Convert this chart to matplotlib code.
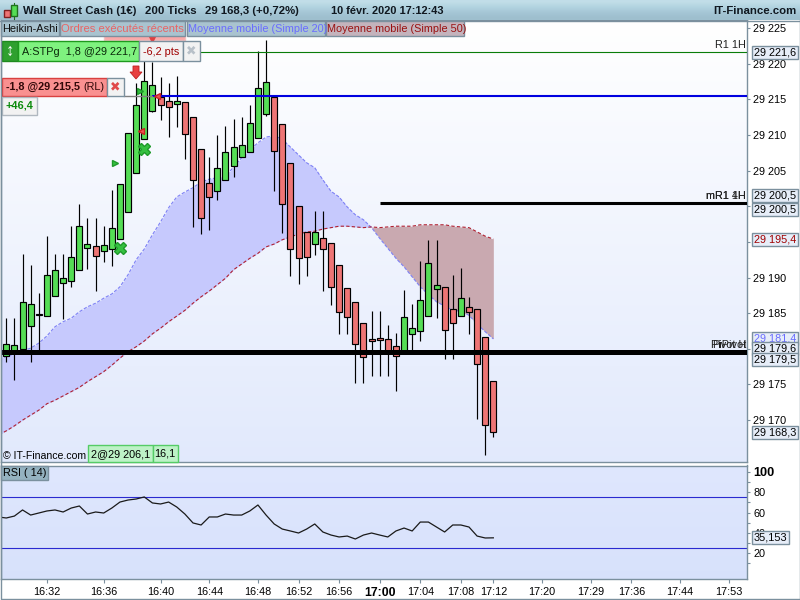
import matplotlib
matplotlib.use('Agg')
import matplotlib.pyplot as plt
import numpy as np
from matplotlib.patches import Polygon, Rectangle

plt.rcParams['font.family'] = ['Liberation Sans', 'DejaVu Sans']

# prices are written without the 29 000 in front
BASE = 29000

opens = [179.0, 179.6, 180.0, 183.2, 184.7, 184.6, 187.4, 189.2, 189.5, 191.1, 194.1, 194.4, 193.7, 194.0, 195.4, 199.2,
         204.7, 209.4, 213.4, 215.3, 214.8, 214.3, 214.6, 212.5, 208.0, 203.3, 202.1, 203.7, 205.6, 206.9, 207.6, 209.6,
         212.9, 215.3, 211.5, 206.1, 200.0, 196.4, 194.7, 195.5, 194.8, 191.8, 188.5, 186.6, 183.6, 181.4, 181.5, 181.4,
         180.4, 179.4, 182.1, 182.5, 184.6, 188.4, 188.7, 185.6, 184.6, 185.9, 185.6, 181.7, 175.5]
closes = [180.7, 180.5, 186.6, 186.3, 184.9, 190.4, 191.1, 189.9, 192.9, 197.2, 194.7, 193.0, 194.6, 197.0, 203.1, 210.3,
          214.2, 217.6, 217.0, 214.2, 213.9, 214.8, 210.1, 203.7, 198.4, 201.3, 205.4, 207.6, 208.3, 208.6, 211.7, 216.6,
          217.4, 207.7, 200.3, 194.0, 192.7, 192.9, 196.4, 194.0, 188.7, 185.2, 184.5, 180.7, 178.9, 181.1, 181.2, 179.4,
          179.0, 184.5, 182.9, 186.9, 192.0, 189.0, 182.6, 183.6, 187.1, 185.2, 177.9, 169.3, 168.3]
highs = [184.3, 184.3, 193.3, 191.8, 187.8, 195.8, 193.3, 193.3, 197.2, 200.3, 198.4, 198.4, 197.2, 202.3, 203.1, 210.3,
         217.3, 220.5, 220.2, 218.1, 217.3, 218.3, 214.6, 212.5, 208.0, 206.9, 210.0, 211.3, 212.2, 212.5, 214.2, 221.8,
         223.3, 215.3, 211.5, 206.1, 200.0, 196.4, 199.3, 199.3, 194.8, 191.8, 188.5, 186.6, 183.6, 185.3, 185.3, 183.3,
         182.2, 188.3, 186.3, 192.3, 195.3, 195.3, 188.7, 190.4, 191.3, 187.3, 185.6, 181.7, 175.5]
lows = [178.2, 175.6, 179.6, 178.2, 179.8, 184.6, 187.4, 184.2, 188.7, 191.1, 191.2, 188.1, 192.2, 191.6, 195.4, 199.2,
        204.7, 209.4, 213.2, 212.1, 209.7, 211.1, 206.6, 197.1, 196.1, 196.7, 200.9, 203.7, 204.1, 206.9, 207.6, 209.6,
        212.7, 202.1, 196.2, 190.2, 189.1, 190.2, 193.2, 188.1, 186.1, 182.1, 182.1, 175.2, 175.2, 176.2, 176.2, 176.2,
        174.1, 179.4, 179.6, 181.1, 184.6, 184.3, 178.6, 178.6, 184.6, 182.1, 170.2, 165.1, 167.6]
# the indicator lists start one bar earlier, at the left edge of the panel
ma20 = [178.6, 178.9, 179.3, 179.7, 180.1, 180.8, 181.8, 183.1, 183.8, 184.3, 185.2, 185.9, 186.4, 187.1, 187.7, 188.7, 190.4,
        192.5, 194.0, 196.0, 197.8, 199.8, 201.3, 202.0, 202.6, 203.4, 203.8, 204.0, 204.2, 205.5, 206.8, 207.9, 208.9,
        209.7, 209.9, 209.4, 208.3, 207.2, 206.1, 205.4, 203.7, 202.1, 201.3, 199.9, 198.8, 198.1, 197.0, 195.5, 194.1,
        192.7, 191.5, 190.1, 188.7, 187.6, 186.6, 186.0, 185.4, 185.3, 184.7, 183.5, 182.4, 181.4]
ma50 = [167.9, 168.5, 169.2, 170.0, 170.7, 171.4, 172.3, 172.8, 173.4, 174.0, 174.6, 175.4, 176.1, 176.8, 177.7, 178.7, 179.6,
        180.3, 181.1, 182.1, 182.9, 183.8, 184.6, 185.4, 186.4, 187.3, 188.1, 189.0, 189.9, 191.1, 191.9, 192.7, 193.4,
        194.3, 194.7, 195.3, 195.7, 196.1, 196.4, 196.5, 196.8, 197.0, 197.2, 197.2, 197.1, 197.0, 197.1, 197.0, 197.1,
        197.2, 197.2, 197.2, 197.4, 197.4, 197.4, 197.4, 197.2, 197.1, 197.0, 196.4, 195.8, 195.4]
rsi = [55.7, 54.7, 56.6, 62.6, 57.6, 59.6, 61.6, 62.6, 60.6, 64.5, 66.5, 58.6, 60.6, 59.6, 64.5, 70.4, 72.4,
       73.4, 75.4, 69.5, 68.5, 70.4, 65.5, 58.6, 49.8, 47.8, 55.7, 55.7, 58.6, 57.6, 57.6, 61.6, 67.5,
       57.6, 48.8, 43.8, 41.9, 39.9, 43.8, 48.8, 40.9, 37.9, 36.0, 36.9, 34.0, 37.9, 39.9, 37.9, 36.0,
       41.9, 44.8, 41.9, 50.7, 50.7, 45.8, 40.9, 47.8, 47.8, 45.8, 36.9, 35.0, 35.153]

time_idx = [5, 12, 19, 25, 31, 36, 41, 46, 51, 56, 60, 66, 72, 77, 83, 89]
time_labels = ['16:32', '16:36', '16:40', '16:44', '16:48', '16:52', '16:56', '17:00', '17:04', '17:08', '17:12',
               '17:20', '17:29', '17:36', '17:44', '17:53']
price_ticks = [170, 175, 180, 185, 190, 195, 200, 205, 210, 215, 220, 225]
rsi_ticks = [20, 40, 60, 80, 100]

r1_level = 221.6
blue_level = 215.4
mr1_level = 200.5
pivot_level = 179.6

opens = np.array(opens) + BASE
closes = np.array(closes) + BASE
highs = np.array(highs) + BASE
lows = np.array(lows) + BASE
ma20 = np.array(ma20) + BASE
ma50 = np.array(ma50) + BASE
rsi = np.array(rsi)
bars = np.arange(len(opens))
ind_bars = np.arange(-1, len(opens))

GREEN = '#55dd55'
RED = '#ee7575'
EDGE = '#7b909e'
SIZE = 7.8

fig = plt.figure(figsize=(8, 6), dpi=100, facecolor='white')
main = fig.add_axes([1 / 800, 1 - 462 / 600, 746 / 800, 442 / 600])
low_ax = fig.add_axes([1 / 800, 1 - 579 / 600, 746 / 800, 113.5 / 600])

xlim = (-0.653, 91.25)
main.set_xlim(*xlim)
main.set_ylim(BASE + 164.13, BASE + 226.12)
low_ax.set_xlim(*xlim)
low_ax.set_ylim(-5.4, 106.4)

# background gradients
grad = np.linspace(0, 1, 200).reshape(-1, 1)
main.imshow(np.dstack([1 - grad * 0.115, 1 - grad * 0.085, np.ones_like(grad) - grad * 0.01]), aspect='auto',
            extent=(*xlim, BASE + 164.13, BASE + 226.12), zorder=0)
low_ax.imshow(np.dstack([0.875 - grad * 0.03, 0.905 - grad * 0.02, 0.995 - grad * 0.01]), aspect='auto',
              extent=(*xlim, -5.4, 106.4), zorder=0)

# moving averages with the cloud between them
main.fill_between(ind_bars, ma20, ma50, where=ma20 >= ma50, interpolate=True, color='#c6c9fd', lw=0, zorder=1)
main.fill_between(ind_bars, ma20, ma50, where=ma20 <= ma50, interpolate=True, color='#c9a9b0', lw=0, zorder=1)
main.plot(ind_bars, ma20, color='#7d80f5', lw=0.8, ls=(0, (3, 1.5)), zorder=2)
main.plot(ind_bars, ma50, color='#b02030', lw=0.8, ls=(0, (3, 2)), zorder=2)

# heikin-ashi candles
colors = [GREEN if c >= o else RED for o, c in zip(opens, closes)]
main.vlines(bars, lows, highs, color='black', lw=0.85, zorder=3)
main.bar(bars, closes - opens, bottom=opens, width=0.74, color=colors, edgecolor='black', lw=0.85, zorder=4)

# levels
main.axhline(BASE + r1_level, color='#0a7d0a', lw=0.8, zorder=3)
main.plot([18.0, xlim[1]], [BASE + blue_level] * 2, color='#0000e0', lw=1.5, zorder=5, solid_capstyle='butt')
main.plot([46, xlim[1]], [BASE + mr1_level] * 2, color='black', lw=2.2, zorder=5, solid_capstyle='butt')
main.axhline(BASE + pivot_level, color='black', lw=3.6, zorder=5)

# trades
main.plot([17, 14], [BASE + 208.0, BASE + 194.1], ls='none', marker='X', ms=9, color='#35c040', mec='#1f9a2a', zorder=6)
main.plot([13.4, 16.5], [BASE + 206.1, BASE + 216.2], ls='none', marker='>', ms=5, color='#35c040', mec='#1f9a2a', zorder=6)
main.plot([16.6, 18.6], [BASE + 210.6, BASE + 215.4], ls='none', marker='<', ms=5, color='#ee5555', mec='#cc2222', zorder=6)

# rsi panel
low_ax.axhline(75, color='#2a2ad0', lw=0.8, zorder=2)
low_ax.axhline(25, color='#2a2ad0', lw=0.8, zorder=2)
low_ax.plot(ind_bars, rsi, color='#1a1a1a', lw=0.9, zorder=3)

main.set_xticks([])
main.yaxis.tick_right()
main.set_yticks([BASE + t for t in price_ticks])
main.set_yticklabels(['29 %d' % t for t in price_ticks], fontsize=SIZE)
main.tick_params(axis='y', length=2.2, width=0.8, color=EDGE, pad=2.4)

low_ax.yaxis.tick_right()
low_ax.set_yticks(rsi_ticks)
low_ax.set_yticklabels([str(t) for t in rsi_ticks], fontsize=SIZE)
low_ax.get_yticklabels()[-1].set_fontweight('bold')
low_ax.get_yticklabels()[-1].set_fontsize(9.2)
low_ax.set_yticks([10, 30, 50, 70, 90], minor=True)
low_ax.tick_params(axis='y', which='both', length=2.2, width=0.8, color=EDGE, pad=2.4)
low_ax.set_xticks(time_idx)
low_ax.set_xticklabels(time_labels, fontsize=SIZE)
low_ax.get_xticklabels()[7].set_fontweight('bold')
low_ax.get_xticklabels()[7].set_fontsize(8.8)
low_ax.tick_params(axis='x', length=3, width=0.8, color=EDGE, pad=2.5)

for ax in (main, low_ax):
    for s in ax.spines.values():
        s.set_color(EDGE)
        s.set_linewidth(1)


# price tags on the right scale
def tag(ax, value, text, color='black', dy=0):
    ax.annotate(text, xy=(1, value), xycoords=ax.get_yaxis_transform(), xytext=(7, dy), textcoords='offset pixels',
                fontsize=SIZE, color=color, va='center', ha='left', annotation_clip=False, zorder=20,
                bbox=dict(boxstyle='square,pad=0.14', fc='#e6edf8', ec=EDGE, lw=1))


tag(main, BASE + r1_level, '29 221,6')
tag(main, BASE + mr1_level, '29 200,5', dy=7)
tag(main, BASE + mr1_level, '29 200,5', dy=-7)
tag(main, BASE + 195.4, '29 195,4', color='#a00000')
tag(main, BASE + 181.4, '29 181,4', color='#6a6cff')
tag(main, BASE + pivot_level, '29 179,6', dy=3)
tag(main, BASE + pivot_level, '29 179,5', dy=-8)
tag(main, BASE + 168.3, '29 168,3')
tag(low_ax, 35.153, '35,153')

# level names
for value, dy, name in [(r1_level, 7, 'R1 1H'), (mr1_level, 7, 'mR1 1H'), (mr1_level, 7, 'mR1 4H'),
                        (pivot_level, 7, 'Pivot H'), (pivot_level, 7, 'PiPivot')]:
    main.annotate(name, xy=(1, BASE + value), xycoords=main.get_yaxis_transform(), xytext=(-1, dy),
                  textcoords='offset pixels', fontsize=SIZE, ha='right', va='center', zorder=7,
                  color='#202020')

# overlay in window pixels for the platform widgets
ov = fig.add_axes([0, 0, 1, 1])
ov.set_xlim(0, 800)
ov.set_ylim(600, 0)
ov.axis('off')
ov.patch.set_alpha(0)


def box(x0, y0, x1, y1, fc, ec='none', lw=1, z=10):
    ov.add_patch(Rectangle((x0, y0), x1 - x0, y1 - y0, fc=fc, ec=ec, lw=lw, zorder=z))


def label(x, y, s, color='black', size=SIZE, weight='normal', ha='left', z=12):
    ov.text(x, y, s, color=color, fontsize=size, fontweight=weight, ha=ha, va='center', zorder=z)


# title bar
bar_grad = np.array([[0.76, 0.87, 0.91], [0.70, 0.83, 0.88], [0.65, 0.78, 0.84], [0.62, 0.75, 0.81]]).reshape(-1, 1, 3)
ov.imshow(bar_grad, aspect='auto', extent=(0, 800, 20.5, 0), zorder=9, interpolation='bilinear')
ov.set_xlim(0, 800)
ov.set_ylim(600, 0)
ov.plot([0, 800], [20.5, 20.5], color=EDGE, lw=1, zorder=10)
box(4, 10, 10, 17, RED, '#802020')
box(11, 5, 17, 16, GREEN, '#207020')
ov.plot([14, 14], [3, 19], color='#207020', lw=0.8, zorder=9.5)
label(23, 10.5, 'Wall Street Cash (1€)', size=8.2, weight='bold', color='#101820')
label(145, 10.5, '200 Ticks', size=8.2, weight='bold', color='#101820')
label(205, 10.5, '29 168,3 (+0,72%)', size=8.2, weight='bold', color='#101820')
label(331, 10.5, '10 févr. 2020 17:12:43', size=7.9, weight='bold', color='#101820')
label(796, 10.5, 'IT-Finance.com', size=8.2, weight='bold', ha='right', color='#101820')

# pink order tag that peeks under the legend row
box(104, 33, 185, 40, '#f9a8a8', '#f2c0c0', z=8)
ov.plot([152], [38], marker='v', ms=6, color='#e04040', zorder=9)

# legend row
for x0, x1, fc, txt, col, fs in [(1, 59, '#a9c3cf', 'Heikin-Ashi', '#101010', 7.9),
                                 (60, 185, '#a9c3cf', 'Ordres exécutés récents', '#ea6464', 8.1),
                                 (187, 325, '#a9c3cf', 'Moyenne mobile (Simple 20)', '#6a6cff', 7.8),
                                 (326, 464, '#c4b3bc', 'Moyenne mobile (Simple 50)', '#9a1010', 7.8)]:
    box(x0, 21, x1, 35.5, fc, EDGE)
    label(x0 + 1, 28.5, txt, color=col, size=fs)

# open order widget
box(2, 41, 18, 61, '#2fa02f', '#1e8a1e')
label(10, 51, '↕', size=12, weight='bold', color='white', ha='center')
box(18, 41, 138.5, 61, '#7ff27f', '#1e9a1e')
label(22, 52, 'A:STPg  1,8 @29 221,7', color='#0a2a0a')
box(139, 41, 183, 61, '#f2f2f2', EDGE)
label(161, 52, '-6,2 pts', color='#a00000', ha='center')
box(183, 41, 200, 61, '#f2f2f2', EDGE)
label(191.5, 51, '✖', size=9, color='#b8c0c8', ha='center')
ov.add_patch(Polygon([(133, 66), (139, 66), (139, 72), (142, 72), (136, 79), (130, 72), (133, 72)],
                     fc='#e84040', ec='#c02020', lw=0.6, zorder=12))

# position widget
box(2, 78, 107, 96, '#f99090', '#d84040')
label(6, 87, '-1,8 @29 215,5', weight='bold', color='#300808')
label(83, 87, '(RL)', color='#300808')
box(107, 78, 124, 96, '#f2f2f2', EDGE)
label(115.5, 87, '✖', size=9, color='#e04848', ha='center')
ov.plot([124, 152], [96.3, 96.3], color='#808080', lw=1, zorder=9)
box(2, 97, 37, 115, '#f2f2f2', '#b0b8c0')
label(6, 106, '+46,4', weight='bold', color='#0a8a0a')

# footer of the price panel
label(3, 456, '© IT-Finance.com', size=7.6)
box(88, 445, 153, 462, '#bdf2c6', '#55cc66')
label(91, 454, '2@29 206,1')
box(153, 445, 177.5, 462, '#bdf2c6', '#55cc66')
label(154, 454, '16,1')
box(1, 466, 48, 480, '#94b2c0', EDGE)
label(3, 473, 'RSI ( 14)')

# window frame
ov.plot([799.5, 799.5, 0.5, 0.5], [20, 598.5, 598.5, 20], color=EDGE, lw=1, zorder=13)

fig.savefig('out.png', dpi=100)
